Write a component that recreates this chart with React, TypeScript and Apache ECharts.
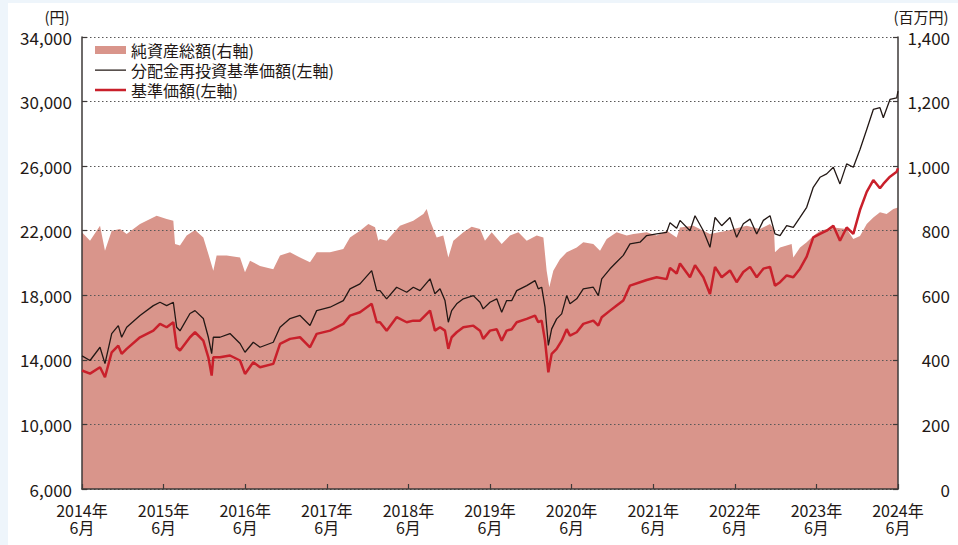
import React, { useEffect, useRef } from "react";
import * as echarts from "echarts";

// x positions are months elapsed since June 2014 (0 = 2014年6月, 120 = 2024年6月)
const xTickLabels = ["2014年\n6月", "2015年\n6月", "2016年\n6月", "2017年\n6月", "2018年\n6月", "2019年\n6月", "2020年\n6月", "2021年\n6月", "2022年\n6月", "2023年\n6月", "2024年\n6月"];

const lineMonths = [
  0, 1.18, 2.65, 3.38, 4.37, 5.34, 5.83, 6.57, 8.53, 10.49, 11.47, 12.45, 13.43, 13.92, 14.41, 15.88, 16.62, 17.84, 18.58, 19.07,
  19.31, 20.29, 21.76, 23.24, 23.97, 25.19, 26.18, 28.13, 29.12, 30.59, 32.06, 33.53, 34.51, 36.47, 38.43, 39.41, 40.88, 42.6, 43.34,
  43.82, 44.8, 46.27, 47.75, 48.72, 49.71,
  51.18, 51.9, 52.65, 53.38, 53.87, 54.36, 55.1, 56.08, 57.55, 58.53, 59.0, 60.0, 60.99, 61.72, 62.45, 63.19, 63.93, 65.4, 66.62,
  67.1, 67.6, 68.09, 68.58, 69.07, 69.8, 70.54, 71.28, 71.76, 72.75, 73.72, 75.19, 75.93, 76.43, 77.65, 78.63, 79.6, 80.59,
  82.06, 83.04, 84.51, 85.98, 86.47, 87.45,
  87.94, 89.41, 90.15, 91.37, 92.35, 93.09, 94.07, 95.29, 96.27, 97.25, 98.24, 99.22, 100.2, 101.18, 101.91, 102.65, 103.63, 104.6,
  105.59, 106.57, 107.54, 108.53, 109.51, 110.49, 111.47, 112.45, 113.43, 114.41, 115.4, 116.37, 117.35, 117.84, 118.82, 119.81, 120,
];

// 分配金再投資基準価額 (円, left axis)
const reinvestedNav = [
  14250, 13960, 14780, 13770, 15630, 16120, 15400, 16020, 16750, 17360, 17570, 17360, 17570, 16020, 15800, 16870, 17050, 16560, 15400, 14390,
  15400, 15400, 15630, 15010, 14470, 15090, 14780, 15090, 16020, 16560, 16750, 16130, 17050, 17260, 17670, 18400, 18710, 19530, 18290,
  18290, 17780, 18500, 18190, 18500, 18290,
  19020, 18090, 18400, 17670, 16330, 17050, 17470, 17780, 17980, 17570, 17160, 17570, 17780, 16950, 17670, 17670, 18290, 18600, 18910,
  18400, 18500, 17260, 14890, 15920, 16540, 16850, 17980, 17470, 17780, 18400, 18500, 17980, 19020, 19640, 20060, 20470, 21180,
  21290, 21700, 21800, 21900, 22500, 22150,
  22640, 22000, 22930, 22000, 20970, 22820, 22310, 22820, 21590, 22430, 22720, 21800, 22640, 22930, 21800, 21700, 22310, 22200,
  22820, 23450, 24690, 25310, 25520, 25930, 24900, 26140, 25930, 27030, 28270, 29510, 29620, 29000, 30130, 30230, 30650,
];

// 基準価額 (円, left axis)
const nav = [
  13340, 13150, 13540, 12920, 14470, 14880, 14370, 14680, 15400, 15810, 16230, 16020, 16330, 14780, 14580, 15400, 15710, 15190, 14160, 13030,
  14160, 14160, 14270, 13960, 13130, 13850, 13540, 13750, 14990, 15300, 15400, 14780, 15610, 15810, 16230, 16740, 16950, 17470, 16330,
  16330, 15810, 16640, 16330, 16430, 16430,
  17050, 15810, 16020, 15810, 14680, 15400, 15710, 16020, 16120, 15810, 15300, 15810, 15900, 15190, 15810, 15900, 16330, 16540, 16740,
  16330, 16430, 15190, 13230, 14370, 14680, 15190, 15900, 15500, 15710, 16230, 16430, 16120, 16640, 17050, 17370, 17670, 18600,
  18810, 18950, 19120, 19000, 19700, 19350,
  19970, 19120, 19860, 19120, 18080, 19760, 19120, 19540, 18810, 19440, 19760, 19120, 19650, 19760, 18600, 18810, 19230, 19120,
  19650, 20390, 21590, 21800, 22000, 22310, 21380, 22200, 21800, 23280, 24410, 25140, 24630, 24900, 25350, 25660, 25870,
];

const assetMonths = [
  0, 1.18, 2.65, 3.38, 4.37, 5.59, 6.57, 8.53, 10.98, 12.45, 13.43, 13.68, 14.41, 15.39, 16.62, 17.84, 18.58, 19.31, 19.8, 21.27,
  23.24, 23.97, 24.71, 26.18, 28.13, 29.12, 30.59, 32.06, 33.53, 34.51, 36.47, 38.43, 39.41, 40.88, 42.11, 43.09, 43.58,
  43.82, 44.8, 46.76, 48.72, 50.2, 50.69,
  51.18, 52.16, 53.13, 53.87, 54.61, 56.08, 57.3, 58.53, 59.26, 60.25, 61.72, 62.94, 64.17, 65.4, 66.87, 67.85, 68.33, 68.72,
  69.31, 70.29, 71.28, 72.75, 73.72, 75.19, 76.18, 77.16, 78.63, 80.1,
  81.08, 83.04, 84.51, 85.98, 87.45,
  87.94, 89.9, 92.35, 94.8, 97.74, 99.7, 101.18, 101.76, 101.91, 102.65, 104.36, 104.6, 105.59, 106.57, 107.54, 108.53, 110.49,
  112.45, 113.43, 114.41, 115.4, 116.37, 117.35, 118.33, 119.31, 120,
];

// 純資産総額 (百万円, right axis)
const netAssets = [
  795, 769, 815, 738, 800, 805, 790, 821, 846, 836, 831, 759, 754, 785, 802, 779, 728, 676, 723, 723,
  717, 671, 707, 691, 681, 723, 733, 717, 702, 733, 733, 743, 779, 800, 821, 811, 769,
  774, 769, 815, 831, 852, 867,
  831, 779, 785, 717, 769, 795, 812, 805, 769, 795, 759, 785, 795, 769, 785, 779, 676, 625,
  676, 712, 733, 748, 764, 759, 738, 774, 795, 785,
  790, 795, 785, 800, 779,
  810, 815, 790, 800, 815, 805, 821, 805, 733, 748, 759, 717, 748, 764, 784, 800, 810,
  805, 774, 784, 821, 841, 857, 852, 867, 872,
];

const FONT = '"Noto Sans CJK JP", "Noto Sans", sans-serif';
const TEXT = "#231815";
const AXIS = "#3e3a39";
const AREA = "#d9958b";
const RED = "#c9202b";

// legend icons: thin bars drawn inside an invisible 31x8 frame
const thinLineIcon = "path://M0,0h31v0.01h-31zM0,3.4h31v1.3h-31zM0,7.99h31v0.01h-31z";
const thickLineIcon = "path://M0,0h31v0.01h-31zM0,2.75h31v2.5h-31zM0,7.99h31v0.01h-31z";

const zip = (xs: number[], ys: number[]) => xs.map((x, i) => [x, ys[i]]);
const comma = (v: number) => v.toLocaleString("en-US");

export default function App() {
  const ref = useRef<HTMLDivElement>(null);

  useEffect(() => {
    if (!ref.current) return;
    const chart = echarts.init(ref.current, undefined, { renderer: "svg" });
    chart.setOption({
      animation: false,
      textStyle: { fontFamily: FONT },
      grid: { left: 82, right: 60, top: 37, bottom: 56 },
      legend: {
        orient: "vertical",
        left: 90,
        top: 37,
        itemWidth: 31,
        itemHeight: 8,
        itemGap: 4,
        textStyle: { fontSize: 16, color: TEXT, fontFamily: FONT },
        data: [
          { name: "純資産総額(右軸)", icon: "rect" },
          { name: "分配金再投資基準価額(左軸)", icon: thinLineIcon },
          { name: "基準価額(左軸)", icon: thickLineIcon },
        ],
      },
      xAxis: {
        type: "value",
        min: 0,
        max: 120,
        interval: 12,
        z: 3,
        axisLine: { show: true, lineStyle: { color: AXIS, width: 1.5 } },
        axisTick: { show: true, inside: true, length: 5, lineStyle: { color: AXIS, width: 1.2 } },
        axisLabel: {
          fontSize: 16,
          lineHeight: 17,
          color: TEXT,
          margin: 12,
          fontFamily: FONT,
          formatter: (v: number) => xTickLabels[Math.round(v / 12)] ?? "",
        },
        splitLine: { show: false },
      },
      yAxis: [
        {
          type: "value",
          min: 6000,
          max: 34000,
          interval: 4000,
          position: "left",
          z: 3,
          name: "(円)",
          nameLocation: "end",
          nameGap: 13,
          nameTextStyle: { fontSize: 15, color: TEXT, fontFamily: FONT, align: "center", padding: [0, 50, 0, 0] },
          axisLine: { show: true, lineStyle: { color: AXIS, width: 1.5 } },
          axisTick: { show: true, inside: true, length: 5, lineStyle: { color: AXIS, width: 1.2 } },
          axisLabel: { fontSize: 17, color: TEXT, margin: 10, fontFamily: FONT, formatter: comma },
          splitLine: { show: true, lineStyle: { color: "#595757", width: 1.2, type: [1.5, 2.5] } },
        },
        {
          type: "value",
          min: 0,
          max: 1400,
          interval: 200,
          position: "right",
          z: 3,
          name: "(百万円)",
          nameLocation: "end",
          nameGap: 13,
          nameTextStyle: { fontSize: 15, color: TEXT, fontFamily: FONT, align: "center", padding: [0, 0, 0, 46] },
          axisLine: { show: true, lineStyle: { color: AXIS, width: 1.5 } },
          axisTick: { show: true, inside: true, length: 5, lineStyle: { color: AXIS, width: 1.2 } },
          axisLabel: { fontSize: 17, color: TEXT, margin: 52, align: "right", fontFamily: FONT, formatter: comma },
          splitLine: { show: false },
        },
      ],
      series: [
        {
          name: "純資産総額(右軸)",
          type: "line",
          yAxisIndex: 1,
          data: zip(assetMonths, netAssets),
          symbol: "none",
          showSymbol: false,
          z: 1,
          color: AREA,
          itemStyle: { color: AREA },
          lineStyle: { width: 0, color: AREA },
          areaStyle: { color: AREA, opacity: 1 },
        },
        {
          name: "分配金再投資基準価額(左軸)",
          type: "line",
          yAxisIndex: 0,
          data: zip(lineMonths, reinvestedNav),
          symbol: "none",
          showSymbol: false,
          z: 5,
          color: TEXT,
          itemStyle: { color: TEXT },
          lineStyle: { width: 1.3, color: TEXT },
        },
        {
          name: "基準価額(左軸)",
          type: "line",
          yAxisIndex: 0,
          data: zip(lineMonths, nav),
          symbol: "none",
          showSymbol: false,
          z: 6,
          color: RED,
          itemStyle: { color: RED },
          lineStyle: { width: 2.5, color: RED },
        },
      ],
    });
    return () => chart.dispose();
  }, []);

  return (
    <div style={{ position: "absolute", left: 0, top: 0, width: 958, height: 545, background: "#eef5fb" }}>
      <div style={{ position: "absolute", left: 8, top: 3, right: 0, bottom: 0, background: "#ffffff" }} />
      <div ref={ref} style={{ position: "absolute", left: 0, top: 0, width: 958, height: 545 }} />
    </div>
  );
}
